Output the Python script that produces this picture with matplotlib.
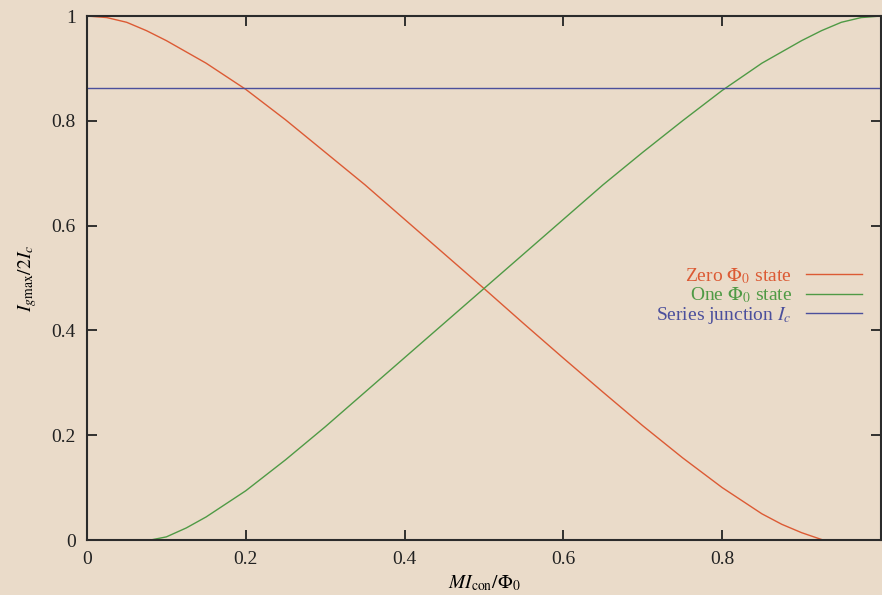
import matplotlib.pyplot as plt

# Flux through the loop, in units of Phi_0
x_zero = [0.0, 0.025, 0.05, 0.075, 0.10, 0.15, 0.20, 0.25, 0.30, 0.35, 0.40,
          0.45, 0.50, 0.55, 0.60, 0.65, 0.70, 0.75, 0.80, 0.85, 0.875, 0.90, 0.927]
i_zero = [1.000, 0.997, 0.988, 0.972, 0.953, 0.910, 0.860, 0.802, 0.740, 0.678, 0.612,
          0.546, 0.480, 0.413, 0.347, 0.282, 0.218, 0.157, 0.100, 0.050, 0.030, 0.014, 0.000]

x_one = [0.08, 0.10, 0.125, 0.15, 0.20, 0.25, 0.30, 0.35, 0.40, 0.45, 0.50, 0.55,
         0.60, 0.65, 0.70, 0.75, 0.80, 0.85, 0.90, 0.925, 0.95, 0.975, 1.0]
i_one = [0.000, 0.006, 0.023, 0.044, 0.094, 0.153, 0.216, 0.282, 0.348, 0.414, 0.480, 0.546,
         0.612, 0.678, 0.740, 0.800, 0.858, 0.910, 0.953, 0.972, 0.988, 0.997, 1.000]

x_series = [0.0, 1.0]
i_series = [0.863, 0.863]

xticks = [0, 0.2, 0.4, 0.6, 0.8]
xtick_labels = ['0', '0.2', '0.4', '0.6', '0.8']
yticks = [0, 0.2, 0.4, 0.6, 0.8, 1]
ytick_labels = ['0', '0.2', '0.4', '0.6', '0.8', '1']

bg = '#eadbc9'
plt.rcParams['font.family'] = 'Liberation Serif'
plt.rcParams['mathtext.fontset'] = 'stix'

fig = plt.figure(figsize=(8.82, 5.95), dpi=100, facecolor=bg)
ax = fig.add_axes([0.0986, 0.0924, 0.9003, 0.8807], facecolor=bg)

ax.plot(x_zero, i_zero, color='#dc5a34', lw=1.0, label=r'Zero $\Phi_0$ state')
ax.plot(x_one, i_one, color='#4f9a45', lw=1.0, label=r'One $\Phi_0$ state')
ax.plot(x_series, i_series, color='#4b4f9c', lw=1.0, label=r'Series junction $I_c$')

ax.set_xlim(0, 1)
ax.set_ylim(0, 1)
ax.set_xticks(xticks, xtick_labels)
ax.set_yticks(yticks, ytick_labels)
ax.tick_params(direction='in', length=7, width=1.3, top=True, right=True,
               labelsize=14, colors='#222222', pad=8)
for s in ax.spines.values():
    s.set_linewidth(1.5)
    s.set_color('#2b2b2b')

ax.set_xlabel(r'$MI_{\mathrm{con}}/\Phi_0$', fontsize=14, labelpad=4)
ax.set_ylabel(r'$I_{g\mathrm{max}}/2I_c$', fontsize=14, labelpad=9)

leg = ax.legend(loc='center right', bbox_to_anchor=(0.998, 0.466), frameon=False,
                markerfirst=False, labelcolor='linecolor', fontsize=14,
                handlelength=2.9, handletextpad=0.7, labelspacing=-0.02)

fig.savefig('out.png', dpi=100, facecolor=bg)
